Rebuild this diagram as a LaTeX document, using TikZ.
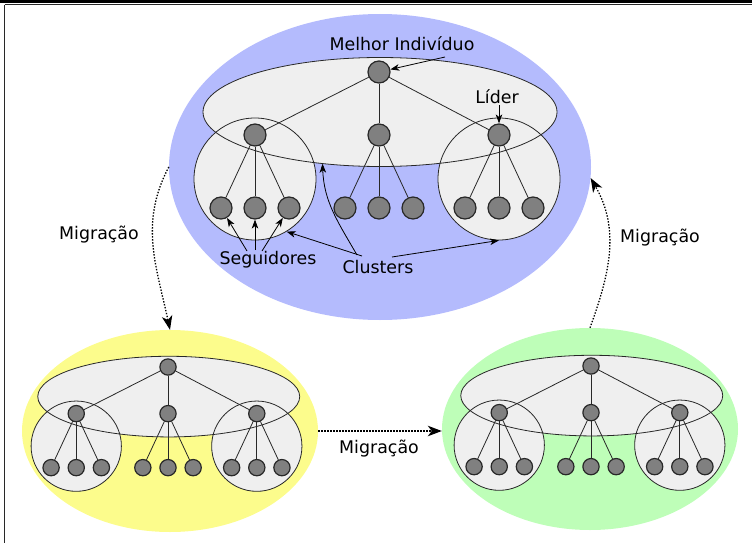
\documentclass[tikz,border=0pt]{standalone}
\usepackage{fontspec}
\setmainfont{DejaVu Sans}
\usetikzlibrary{arrows.meta,shapes.geometric,calc}

\definecolor{popblue}{RGB}{180,187,253}
\definecolor{popyellow}{RGB}{252,252,140}
\definecolor{popgreen}{RGB}{190,254,184}
\definecolor{clusterfill}{RGB}{239,239,239}
\definecolor{indivfill}{RGB}{128,128,128}
\definecolor{inkline}{RGB}{40,40,40}

\tikzset{
  indiv/.style={circle, fill=indivfill, draw=inkline, line width=1.2pt, minimum size=22pt, inner sep=0pt},
  cluster/.style={circle, fill=clusterfill, draw=inkline, line width=0.8pt, minimum size=122pt, inner sep=0pt},
  leaders/.style={ellipse, fill=clusterfill, minimum width=354pt, minimum height=109pt, inner sep=0pt},
  link/.style={draw=inkline, line width=0.8pt},
  population/.style={ellipse, inner sep=0pt},
  lbl/.style={font=\fontsize{17.4}{20}\selectfont, inner sep=0pt},
  pointer/.style={-{Stealth[length=9pt,width=6.5pt,inset=2.5pt]}, line width=0.8pt, black},
  migration/.style={-{Stealth[length=14pt,width=10.5pt,inset=4pt]}, line width=1.3pt, black, dash pattern=on 1.4pt off 1.6pt},
  % one swarm: best individual, three leaders, nine followers
  swarm/.pic={
    \node[leaders] (-e) at (1,40) {};
    \node[cluster] (-cl) at (-124,107) {};
    \node[cluster] (-cr) at (120,107) {};
    \draw[inkline, line width=0.8pt] (1,40) ellipse[x radius=177, y radius=54.5];
    \node[indiv] (-r) at (0,0) {};
    \foreach \n/\x in {a/-124,b/0,c/120} {
      \node[indiv] (-\n) at (\x,63) {};
      \foreach \k/\d in {1/-34,2/0,3/34}
        \node[indiv] (-\n\k) at (\x+\d,136) {};
    }
    \foreach \n in {a,b,c} {
      \draw[link] (-r) -- (-\n);
      \foreach \k in {1,2,3}
        \draw[link] (-\n) -- (-\n\k);
    }
  }
}

\begin{document}
\begin{tikzpicture}[x=1pt,y=-1pt]
\useasboundingbox (0,0) rectangle (752,543);

% populations
\node[population, fill=popblue, minimum width=422pt, minimum height=306pt] (popA) at (380,167) {};
\node[population, fill=popyellow, minimum width=296pt, minimum height=202pt] (popB) at (170,431) {};
\node[population, fill=popgreen, minimum width=296pt, minimum height=202pt] (popC) at (590,429) {};

% swarms
\pic (top) at (379,72) {swarm};
\pic[scale=0.74, transform shape] (bl) at (168,367) {swarm};
\pic[scale=0.74, transform shape] (br) at (591,366) {swarm};

% labels
\node[lbl] (best) at (402,44) {Melhor Indivíduo};
\node[lbl] (leader) at (497,97) {Líder};
\node[lbl] (followers) at (268,260) {Seguidores};
\node[lbl] (clusters) at (378,267) {Clusters};
\node[lbl] (migL) at (99,235) {Migração};
\node[lbl] (migR) at (660,238) {Migração};
\node[lbl] (migB) at (379,449) {Migração};

% pointers from the labels
\coordinate (bestTail) at (445,57);
\coordinate (leaderTail) at (499,105);
\coordinate (folTailA) at (247,251);
\coordinate (folTailB) at (255,250);
\coordinate (folTailC) at (262,251);
\coordinate (cluTailA) at (362,256);
\coordinate (cluTailB) at (357,255);
\coordinate (cluTailC) at (392,257);

\draw[pointer] (bestTail) -- (top-r);
\draw[pointer] (leaderTail) -- (top-c);
\draw[pointer] (folTailA) -- (top-a1);
\draw[pointer] (folTailB) -- (top-a2);
\draw[pointer] (folTailC) -- (top-a3);
\draw[pointer] (cluTailA) -- (top-cl.-59);
\draw[pointer] (cluTailB) to[out=120,in=-88] (top-e.222);
\draw[pointer] (cluTailC) -- (top-cr.south);

% migrations
\draw[migration] (popA.west) to[out=-118,in=102] (popB.north);
\draw[migration] (popC.north) to[out=70,in=-60] (popA.-3);
\draw[migration] (popB.east) -- (popB.east -| popC.west);

% frame
\fill[black] (0,0) rectangle (752,3);
\draw[inkline, line width=1pt] (4.5,5) -- (752,5);
\draw[inkline, line width=1pt] (4.5,5) -- (4.5,543);
\end{tikzpicture}
\end{document}
